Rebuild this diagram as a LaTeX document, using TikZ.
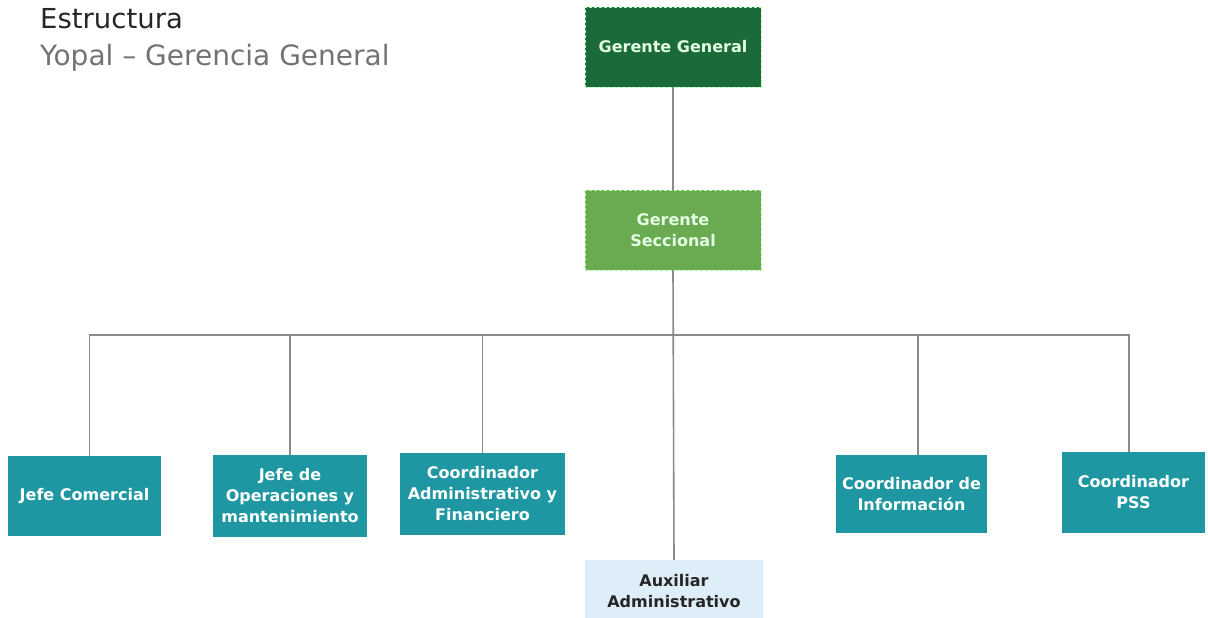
\documentclass[tikz,border=0pt]{standalone}
\usepackage{fontspec}
\setmainfont{DejaVu Sans}
\usepackage{xcolor}
\usetikzlibrary{positioning}

\definecolor{darkgreen}{HTML}{1B6B3A}
\definecolor{midgreen}{HTML}{6AAA50}
\definecolor{teal}{HTML}{1E97A2}
\definecolor{lightblue}{HTML}{DDEEF8}
\definecolor{linegray}{HTML}{8A8A8A}

\begin{document}
\begin{tikzpicture}[x=1pt, y=-1pt,
    box/.style={minimum width=#1, align=center, inner sep=0pt,
        font=\fontsize{16}{21}\selectfont\bfseries},
    gbox/.style={box=176pt, minimum height=80pt, draw=white!70!green, densely dashed, text=white!90!green},
    tbox/.style={box=#1, minimum height=80pt, fill=teal, text=white},
    link/.style={draw=linegray, line width=1.6pt}]
	\useasboundingbox (0,0) rectangle (1208,618);
	% titulo
	\node[anchor=base west, inner sep=0pt, font=\fontsize{27.5}{33}\selectfont, text=black!85] (title) at (40,29) {Estructura};
	\node[anchor=base west, inner sep=0pt, font=\fontsize{28}{33}\selectfont, text=black!55] (subtitle) at (40,66) {Yopal -- Gerencia General};
	% gerencia
	\node[gbox, fill=darkgreen] (gg) at (673,47) {Gerente General};
	\node[gbox, fill=midgreen] (gs) at (673,230) {Gerente\\Seccional};
	\coordinate (bus) at (673,335);
	% jefes y coordinadores
	\node[tbox=153pt] (jc) at (84.5,496) {Jefe Comercial};
	\node[tbox=154pt, minimum height=82pt] (jo) at (290,496) {Jefe de\\Operaciones y\\mantenimiento};
	\node[tbox=165pt, minimum height=82pt] (ca) at (482.5,494) {Coordinador\\Administrativo y\\Financiero};
	\node[tbox=151pt, minimum height=78pt] (ci) at (911.5,494) {Coordinador de\\Informaci\'on};
	\node[tbox=143pt, minimum height=81pt] (cp) at (1133.5,492.5) {Coordinador\\PSS};
	\node[box=178pt, minimum height=62pt, fill=lightblue, text=black!85] (aux) at (674,591) {Auxiliar\\Administrativo};
	% conectores
	\draw[link] (gg.south) -- (gs.north);
	\draw[link] (gs.south) -- (aux.north);
	\draw[link] (bus) -| ([xshift=5pt]jc.north);
	\draw[link] (bus) -| (jo.north);
	\draw[link] (bus) -| (ca.north);
	\draw[link] (bus) -| ([xshift=6.5pt]ci.north);
	\draw[link] (bus) -| ([xshift=-4.5pt]cp.north);
\end{tikzpicture}
\end{document}
